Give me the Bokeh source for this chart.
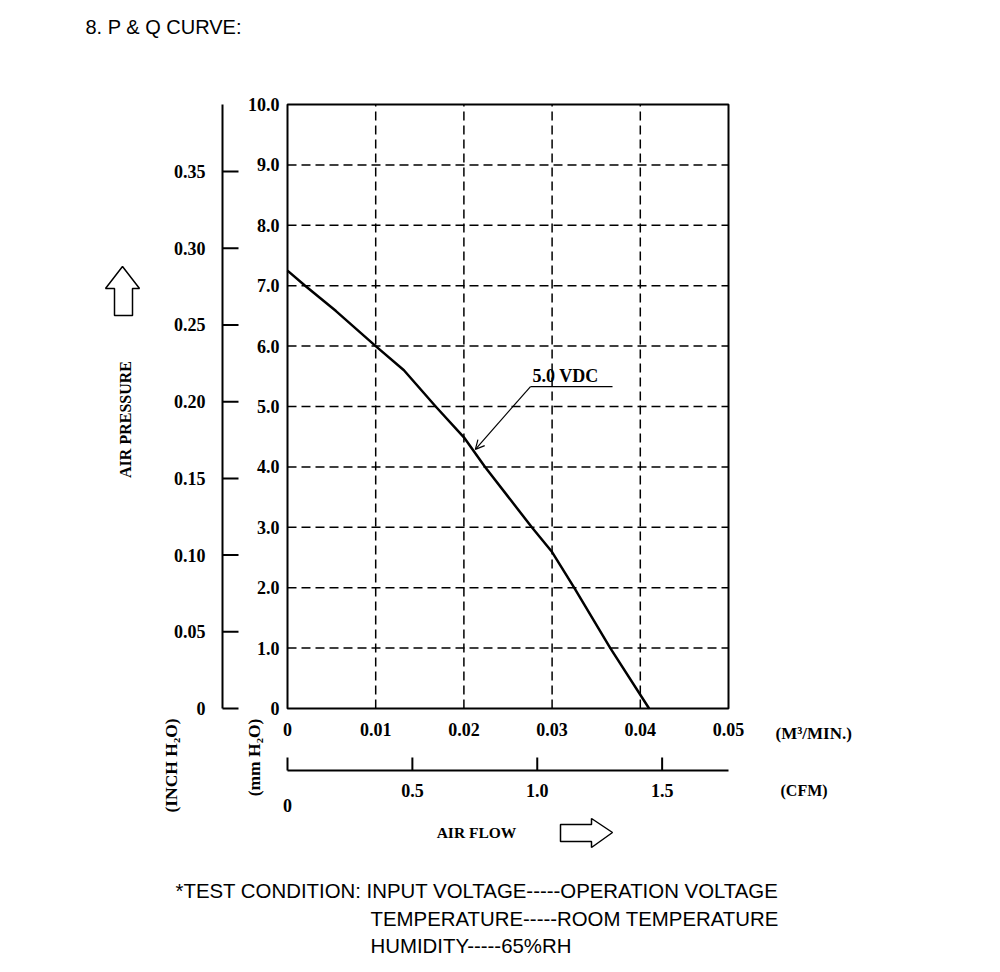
import math
from bokeh.plotting import figure
from bokeh.models import Range1d, Label, Arrow, OpenHead
from bokeh.core.properties import value
from bokeh.embed import file_html
from bokeh.resources import INLINE

# ---------------- data ----------------
flow_m3min = [0.0, 0.002, 0.0055, 0.0100, 0.0132, 0.0168, 0.0200, 0.0224, 0.0277, 0.0300, 0.0325, 0.0366, 0.0410]
pressure_mmh2o = [7.25, 7.0, 6.58, 6.0, 5.60, 5.0, 4.49, 4.0, 3.0, 2.59, 2.0, 1.0, 0.0]

flow_ticks = [0, 0.01, 0.02, 0.03, 0.04, 0.05]
flow_tick_labels = ["0", "0.01", "0.02", "0.03", "0.04", "0.05"]
mm_ticks = [0, 1, 2, 3, 4, 5, 6, 7, 8, 9, 10]
mm_tick_labels = ["0", "1.0", "2.0", "3.0", "4.0", "5.0", "6.0", "7.0", "8.0", "9.0", "10.0"]
inch_ticks = [0, 0.05, 0.10, 0.15, 0.20, 0.25, 0.30, 0.35]
inch_tick_labels = ["0", "0.05", "0.10", "0.15", "0.20", "0.25", "0.30", "0.35"]
cfm_ticks = [0, 0.5, 1.0, 1.5]
cfm_tick_labels = ["0", "0.5", "1.0", "1.5"]

series_name = "5.0 VDC"
pointer_tip = (0.0213, 4.29)
pointer_kink = (0.02755, 5.33)
pointer_end_x = 0.03685

MM_PER_INCH = 25.4
CFM_PER_M3MIN = 35.3147

# ---------------- layout (pixel placement of the chart frame) ----------------
W, H = 1000, 972
FL, FR, FT, FB = 287, 728, 104, 708
X0, X1 = 0.0, 0.05
Y0, Y1 = 0.0, 10.0

def dx(px):
    return X0 + (px - FL) / (FR - FL) * (X1 - X0)

def dy(py):
    return Y0 + (FB - py) / (FB - FT) * (Y1 - Y0)

SERIF = "Liberation Serif"
SANS = "Liberation Sans"
TICK_SIZE = "18px"

p = figure(width=W, height=H, x_range=Range1d(dx(0), dx(W)), y_range=Range1d(dy(H), dy(0)),
           output_backend="svg", toolbar_location=None,
           x_axis_location=None, y_axis_location=None,
           min_border=0, min_border_left=0, min_border_right=0,
           min_border_top=0, min_border_bottom=0)
p.outline_line_color = None
p.background_fill_color = "white"
p.border_fill_color = "white"
p.xgrid.visible = False
p.ygrid.visible = False

TXT = dict(text_font=value(SERIF), text_font_style="bold", text_font_size=TICK_SIZE,
           text_color="black")

# dashed grid
gx = flow_ticks[1:-1]
p.segment(x0=gx, y0=[Y0] * len(gx), x1=gx, y1=[Y1] * len(gx),
          line_color="black", line_width=1.5, line_dash="9 5")
gy = mm_ticks[1:-1]
p.segment(x0=[X0] * len(gy), y0=gy, x1=[X1] * len(gy), y1=gy,
          line_color="black", line_width=1.5, line_dash="9 5")

# frame
p.quad(left=[X0], right=[X1], bottom=[Y0], top=[Y1], fill_color=None,
       line_color="black", line_width=2)

# mm H2O labels
p.text(x=[dx(279)] * len(mm_ticks), y=mm_ticks, text=mm_tick_labels,
       text_align="right", text_baseline="middle", **TXT)

# INCH H2O axis
ix = dx(222)
inch_y = [t * MM_PER_INCH for t in inch_ticks]
p.line([ix, ix], [Y0, Y1], line_color="black", line_width=2)
p.segment(x0=[ix] * len(inch_y), y0=inch_y, x1=[dx(238)] * len(inch_y), y1=inch_y,
          line_color="black", line_width=2)
p.text(x=[dx(205)] * len(inch_y), y=inch_y, text=inch_tick_labels,
       text_align="right", text_baseline="middle", **TXT)

# M3/MIN labels
p.text(x=flow_ticks, y=[dy(729)] * len(flow_ticks), text=flow_tick_labels,
       text_align="center", text_baseline="middle", **TXT)

# CFM axis
cy = dy(770)
cfm_x = [t / CFM_PER_M3MIN for t in cfm_ticks]
p.line([X0, X1], [cy, cy], line_color="black", line_width=2)
p.segment(x0=cfm_x, y0=[cy] * len(cfm_x), x1=cfm_x, y1=[dy(757)] * len(cfm_x),
          line_color="black", line_width=2)
cfm_label_y = [dy(805)] + [dy(790)] * (len(cfm_x) - 1)
p.text(x=cfm_x, y=cfm_label_y, text=cfm_tick_labels,
       text_align="center", text_baseline="middle", **TXT)

# curve
p.line(flow_m3min, pressure_mmh2o, line_color="black", line_width=2.5)

# pointer with label
p.add_layout(Arrow(end=OpenHead(size=9, line_width=1.2, line_color="black"),
                   x_start=pointer_kink[0], y_start=pointer_kink[1],
                   x_end=pointer_tip[0], y_end=pointer_tip[1],
                   line_width=1.2, line_color="black"))
p.line([pointer_kink[0], pointer_end_x], [pointer_kink[1], pointer_kink[1]],
       line_color="black", line_width=1.2)
p.add_layout(Label(x=dx(532), y=dy(375), text=series_name, text_font=SERIF,
                   text_font_style="bold", text_font_size="18px",
                   text_baseline="middle", text_align="left", text_color="black"))

# outer texts
def lbl(text, px, py, size="16px", font=SERIF, style="bold", align="center", angle=0.0):
    p.add_layout(Label(x=dx(px), y=dy(py), text=text, text_font=font,
                       text_font_style=style, text_font_size=size, text_align=align,
                       text_baseline="middle", angle=angle, text_color="black"))

lbl("8. P & Q CURVE:", 85, 26, size="20px", font=SANS, style="normal", align="left")
lbl("(M³/MIN.)", 775, 733, size="17px", align="left")
lbl("(CFM)", 780, 790, align="left")
lbl("AIR FLOW", 476, 832, size="15.5px")
lbl("AIR PRESSURE", 125, 419, angle=math.pi / 2)
lbl("(INCH H₂O)", 170, 765, size="17.5px", angle=math.pi / 2)
lbl("(mm H₂O)", 253, 757, size="17.5px", angle=math.pi / 2)
lbl("*TEST CONDITION: INPUT VOLTAGE-----OPERATION VOLTAGE", 175, 890, size="20.4px", font=SANS, style="normal", align="left")
lbl("TEMPERATURE-----ROOM TEMPERATURE", 370, 918, size="20.4px", font=SANS, style="normal", align="left")
lbl("HUMIDITY-----65%RH", 370, 945, size="20.4px", font=SANS, style="normal", align="left")

# block arrows (outlined)
up_px = [(122, 266), (139, 288), (132, 288), (132, 315), (114, 315), (114, 288), (105, 288)]
right_px = [(560, 824), (591, 824), (591, 818), (612, 832), (591, 847), (591, 841), (560, 841)]
for pts in (up_px, right_px):
    p.patch([dx(a) for a, b in pts], [dy(b) for a, b in pts],
            fill_color=None, line_color="black", line_width=1.5)

open("out.html", "w").write(file_html(p, INLINE))
